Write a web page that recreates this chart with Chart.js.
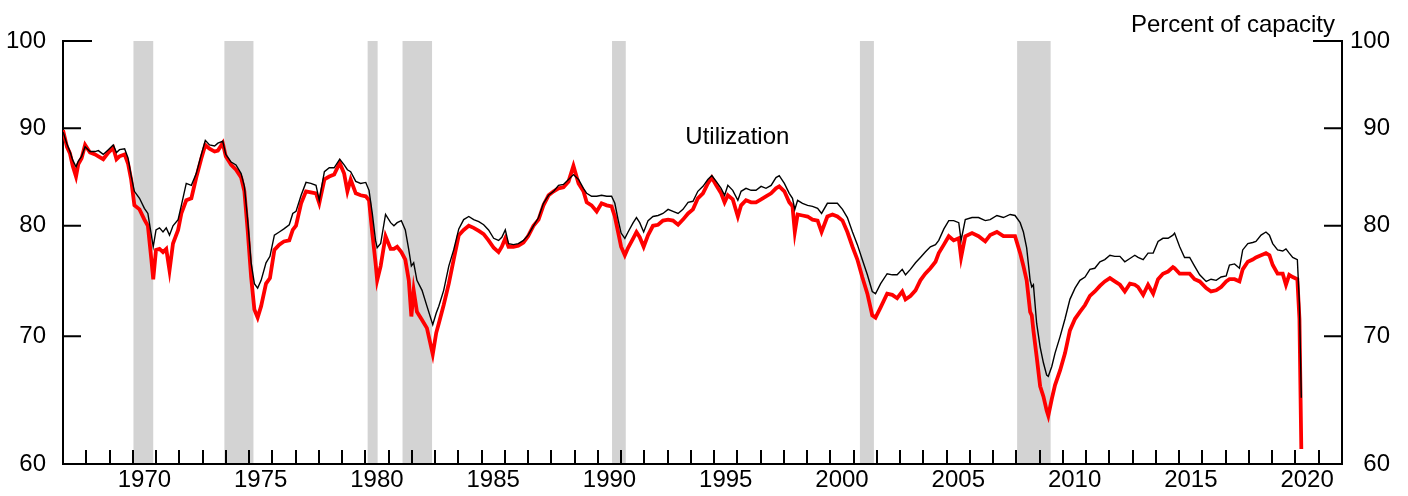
<!DOCTYPE html>
<html lang="en">
<head>
<meta charset="utf-8">
<title>Capacity utilization</title>
<script src="https://cdn.jsdelivr.net/npm/chart.js@4.4.1/dist/chart.umd.min.js"></script>
<style>
  html, body { margin: 0; padding: 0; background: #ffffff; }
  #chart-wrap { width: 1408px; height: 496px; }
</style>
</head>
<body>
<div id="chart-wrap"><canvas id="utilizationChart" width="1408" height="496"></canvas></div>
<script>
// Decimal-year positions of the points
const dates = [
  1967.0, 1967.17, 1967.3, 1967.42, 1967.56, 1967.66, 1967.8, 1967.95,
  1968.16, 1968.38, 1968.52, 1968.73, 1968.95,
  1969.16, 1969.3, 1969.43, 1969.65, 1969.8, 1969.93,
  1970.07, 1970.29, 1970.5, 1970.65, 1970.8, 1970.88,
  1971.0, 1971.15, 1971.3, 1971.44, 1971.58, 1971.73, 1971.95,
  1972.09, 1972.3, 1972.52, 1972.73, 1972.95,
  1973.12, 1973.3, 1973.52, 1973.66, 1973.87,
  1974.0, 1974.23, 1974.44, 1974.66, 1974.8, 1974.94,
  1975.09, 1975.23, 1975.37, 1975.52, 1975.73, 1975.9,
  1976.09, 1976.3, 1976.5, 1976.73, 1976.88,
  1977.02, 1977.24, 1977.45, 1977.66, 1977.88,
  1978.02, 1978.24, 1978.45, 1978.66, 1978.9,
  1979.09, 1979.23, 1979.37, 1979.59, 1979.8,
  1980.02, 1980.16, 1980.3, 1980.44, 1980.51, 1980.66, 1980.87,
  1981.09, 1981.23, 1981.37, 1981.55, 1981.72, 1981.87, 1981.98,
  1982.08, 1982.22, 1982.44, 1982.65, 1982.9,
  1983.05, 1983.16, 1983.37, 1983.59, 1983.8,
  1984.02, 1984.23, 1984.45, 1984.66, 1984.88,
  1985.09, 1985.3, 1985.52, 1985.73, 1985.87,
  1986.02, 1986.16, 1986.37, 1986.58, 1986.8,
  1987.0, 1987.23, 1987.45, 1987.66, 1987.88,
  1988.1, 1988.31, 1988.52, 1988.74, 1988.95,
  1989.17, 1989.38, 1989.52, 1989.73, 1989.95,
  1990.16, 1990.38, 1990.59, 1990.73, 1990.87,
  1991.0, 1991.16, 1991.3, 1991.52, 1991.66, 1991.8, 1991.97,
  1992.16, 1992.37, 1992.59, 1992.8,
  1993.02, 1993.23, 1993.45, 1993.66, 1993.88,
  1994.09, 1994.3, 1994.52, 1994.73, 1994.9,
  1995.09, 1995.3, 1995.45, 1995.59, 1995.8,
  1996.02, 1996.16, 1996.37, 1996.59, 1996.8,
  1997.02, 1997.23, 1997.45, 1997.66, 1997.8,
  1998.02, 1998.23, 1998.37, 1998.47, 1998.59, 1998.8,
  1999.02, 1999.23, 1999.45, 1999.62, 1999.87,
  2000.09, 2000.3, 2000.52, 2000.73, 2000.95,
  2001.16, 2001.37, 2001.59, 2001.8, 2001.94,
  2002.16, 2002.44, 2002.66, 2002.87,
  2003.09, 2003.23, 2003.44, 2003.66, 2003.87,
  2004.08, 2004.3, 2004.52, 2004.66, 2004.88,
  2005.09, 2005.3, 2005.52, 2005.62, 2005.8,
  2006.09, 2006.37, 2006.66, 2006.87,
  2007.16, 2007.44, 2007.73, 2007.94,
  2008.16, 2008.3, 2008.44, 2008.59, 2008.66, 2008.73, 2008.87,
  2009.02, 2009.16, 2009.3, 2009.37, 2009.52, 2009.66, 2009.88,
  2010.09, 2010.3, 2010.52, 2010.73, 2010.95,
  2011.16, 2011.37, 2011.59, 2011.8,
  2012.02, 2012.23, 2012.45, 2012.66, 2012.88,
  2013.09, 2013.23, 2013.45, 2013.66, 2013.88,
  2014.09, 2014.3, 2014.52, 2014.73, 2014.8,
  2015.02, 2015.23, 2015.45, 2015.66, 2015.88,
  2016.16, 2016.37, 2016.59, 2016.8,
  2017.02, 2017.16, 2017.38, 2017.59, 2017.73, 2017.95,
  2018.16, 2018.3, 2018.52, 2018.73, 2018.88,
  2019.02, 2019.23, 2019.45, 2019.59, 2019.73, 2019.88,
  2020.08, 2020.17, 2020.25,
];

// Thin black line
const totalIndustry = [
  89.6, 88.3, 87.5, 86.6, 85.9, 86.5, 87.0, 88.0,
  87.5, 87.5, 87.6, 87.2, 87.7,
  88.2, 87.4, 87.7, 87.8, 86.8, 85.0,
  83.4, 82.7, 81.7, 81.2, 79.1, 78.0,
  79.6, 79.8, 79.4, 79.8, 79.1, 80.0, 80.6,
  82.0, 84.2, 84.0, 85.2, 87.2,
  88.7, 88.2, 88.1, 88.4, 88.6,
  87.2, 86.4, 86.1, 85.2, 83.9, 80.6,
  76.5, 74.6, 74.2, 74.9, 76.5, 77.1,
  79.1, 79.4, 79.7, 80.1, 81.2,
  81.4, 83.0, 84.3, 84.2, 84.0,
  82.5, 85.4, 85.8, 85.8, 86.7,
  86.1, 85.6, 85.4, 84.4, 84.2,
  84.3, 83.5, 81.2, 78.6, 77.9, 78.3, 81.1,
  80.3, 80.0, 80.3, 80.5, 79.6, 77.7, 76.2,
  76.5, 74.9, 74.0, 72.6, 71.0,
  72.0, 72.6, 74.0, 76.2, 77.7,
  79.7, 80.6, 80.9, 80.6, 80.4,
  80.1, 79.6, 78.8, 78.6, 78.9,
  79.6, 78.3, 78.2, 78.3, 78.6,
  79.1, 80.0, 80.8, 82.2, 83.0,
  83.4, 84.0, 84.1, 84.6, 85.1,
  84.6, 83.7, 83.2, 82.9, 82.9,
  83.0, 82.9, 82.9, 82.2, 80.6,
  79.3, 78.8, 79.4, 80.3, 80.8, 80.3, 79.4,
  80.5, 80.9, 81.0, 81.2,
  81.6, 81.4, 81.2, 81.6, 82.3,
  82.4, 83.4, 83.9, 84.6, 85.0,
  84.4, 83.7, 83.0, 84.0, 83.5,
  82.5, 83.4, 83.7, 83.5, 83.5,
  83.9, 83.7, 84.0, 84.8, 85.0,
  84.2, 83.2, 82.7, 81.6, 82.5, 82.2,
  82.0, 81.9, 81.7, 81.2, 82.2,
  82.2, 82.2, 81.6, 80.8, 79.4,
  78.2, 76.8, 75.4, 73.9, 73.7,
  74.6, 75.5, 75.4, 75.4,
  75.9, 75.4, 75.9, 76.5, 77.0,
  77.5, 78.0, 78.2, 78.6, 79.7,
  80.5, 80.5, 80.3, 78.6, 80.6,
  80.8, 80.8, 80.5, 80.6,
  81.0, 80.8, 81.1, 81.0,
  80.3, 79.4, 77.9, 74.9, 74.3, 74.5, 71.1,
  69.1, 67.8, 66.8, 66.7, 67.5, 68.6, 70.0,
  71.5, 73.2, 74.2, 74.9, 75.2,
  75.9, 76.0, 76.6, 76.8,
  77.2, 77.1, 77.1, 76.6, 76.9,
  77.2, 77.0, 76.8, 77.4, 77.4,
  78.5, 78.8, 78.8, 79.1, 79.3,
  78.0, 77.0, 77.0, 76.2, 75.4,
  74.8, 75.0, 74.9, 75.2,
  75.3, 76.3, 76.4, 76.0, 77.7, 78.3,
  78.4, 78.5, 79.1, 79.4, 79.1,
  78.3, 77.7, 77.6, 77.8, 77.4, 77.0,
  76.8, 72.8, 65.0,
];

// Thick red line
const manufacturing = [
  89.8, 88.0, 87.3, 86.0, 84.9, 86.2, 86.8, 88.2,
  87.4, 87.2, 87.0, 86.7, 87.4,
  87.9, 86.7, 87.0, 87.2, 86.2, 84.6,
  82.0, 81.6, 80.6, 80.0, 76.8, 75.0,
  77.7, 77.8, 77.5, 77.8, 75.8, 78.3, 79.6,
  81.2, 82.5, 82.7, 84.8, 86.8,
  88.2, 87.8, 87.5, 87.6, 88.4,
  87.0, 86.1, 85.6, 84.8, 83.4, 79.6,
  75.2, 72.3, 71.6, 72.6, 74.6, 75.1,
  77.7, 78.2, 78.5, 78.6, 79.6,
  80.0, 82.2, 83.4, 83.3, 83.2,
  82.2, 84.6, 84.9, 85.1, 86.3,
  85.2, 83.4, 84.6, 83.2, 83.0,
  82.9, 82.5, 79.3, 76.5, 74.9, 76.2, 79.0,
  77.8, 77.8, 78.0, 77.5, 76.8, 74.9, 71.7,
  74.0, 72.1, 71.4, 70.7, 68.5,
  70.3, 71.1, 72.7, 74.6, 76.8,
  79.1, 79.6, 80.0, 79.8, 79.5,
  79.2, 78.6, 77.9, 77.5, 78.0,
  78.8, 78.0, 78.0, 78.1, 78.4,
  79.0, 80.0, 80.6, 82.0, 83.0,
  83.4, 83.7, 83.8, 84.4, 86.0,
  84.2, 83.4, 82.3, 82.0, 81.4,
  82.2, 82.0, 81.9, 80.9, 79.4,
  78.0, 77.2, 77.9, 78.8, 79.4, 78.9, 78.0,
  79.1, 80.0, 80.1, 80.5,
  80.6, 80.5, 80.1, 80.6, 81.2,
  81.6, 82.7, 83.2, 84.2, 84.8,
  84.0, 83.2, 82.3, 83.0, 82.6,
  80.9, 82.0, 82.5, 82.3, 82.3,
  82.6, 82.9, 83.2, 83.7, 83.9,
  83.4, 82.3, 81.9, 79.4, 81.1, 81.0,
  80.9, 80.6, 80.5, 79.4, 80.9,
  81.1, 80.9, 80.5, 79.4, 78.0,
  76.8, 75.2, 73.7, 71.8, 71.6,
  72.5, 73.7, 73.6, 73.3,
  73.9, 73.2, 73.5, 74.0, 74.9,
  75.5, 76.0, 76.6, 77.4, 78.2,
  79.0, 78.6, 78.8, 77.0, 79.0,
  79.3, 79.0, 78.5, 79.1,
  79.4, 79.0, 79.0, 79.0,
  77.4, 76.2, 74.9, 72.1, 71.8, 70.5, 68.3,
  65.9, 65.1, 64.0, 63.6, 64.9, 66.0, 67.2,
  68.6, 70.5, 71.5, 72.1, 72.7,
  73.5, 73.9, 74.4, 74.8,
  75.1, 74.8, 74.5, 73.9, 74.6,
  74.5, 74.3, 73.6, 74.5, 73.7,
  75.0, 75.5, 75.7, 76.1, 76.0,
  75.5, 75.5, 75.5, 75.0, 74.8,
  74.2, 73.9, 74.0, 74.3,
  74.8, 75.0, 75.0, 74.8, 75.9, 76.6,
  76.8, 77.0, 77.2, 77.4, 77.2,
  76.3, 75.5, 75.5, 74.5, 75.4, 75.2,
  75.0, 71.5, 61.1,
];

// Shaded recession periods (decimal years)
const recessionStarts = [1970.03, 1973.94, 1980.1, 1981.6, 1990.61, 2001.27, 2008.03];
const recessionEnds = [1970.88, 1975.19, 1980.53, 1982.87, 1991.2, 2001.87, 2009.47];

const valueTicks = [60, 70, 80, 90, 100];
const yearLabels = [1970, 1975, 1980, 1985, 1990, 1995, 2000, 2005, 2010, 2015, 2020];
const firstYear = 1967;
const lastYear = 2022;

const fontFamily = "'Liberation Sans', Arial, Helvetica, sans-serif";
Chart.defaults.font.family = fontFamily;
Chart.defaults.font.size = 24;
Chart.defaults.color = "#000000";

const recessionShading = {
  id: "recessionShading",
  beforeDraw(chart) {
    const { ctx, chartArea, scales } = chart;
    ctx.save();
    ctx.fillStyle = "#d3d3d3";
    recessionStarts.forEach((start, i) => {
      const left = scales.x.getPixelForValue(start);
      const right = scales.x.getPixelForValue(recessionEnds[i]);
      ctx.fillRect(left, chartArea.top, right - left, chartArea.bottom - chartArea.top);
    });
    ctx.restore();
  },
};

const axisTicksAndNotes = {
  id: "axisTicksAndNotes",
  afterDraw(chart) {
    const { ctx, chartArea, scales } = chart;
    ctx.save();
    ctx.strokeStyle = "#000000";
    ctx.lineWidth = 2;
    ctx.beginPath();
    valueTicks.forEach((value) => {
      const y = scales.y.getPixelForValue(value);
      const length = value === 100 ? 29 : 18;
      ctx.moveTo(chartArea.left, y);
      ctx.lineTo(chartArea.left + length, y);
      ctx.moveTo(chartArea.right, y);
      ctx.lineTo(chartArea.right - length, y);
    });
    for (let year = firstYear + 1; year < lastYear; year++) {
      const x = Math.round(scales.x.getPixelForValue(year));
      ctx.moveTo(x, chartArea.bottom);
      ctx.lineTo(x, chartArea.bottom - 14);
    }
    ctx.stroke();

    ctx.fillStyle = "#000000";
    ctx.font = `24px ${fontFamily}`;
    ctx.textBaseline = "alphabetic";
    ctx.textAlign = "right";
    ctx.fillText("Percent of capacity", chartArea.right - 7, chartArea.top - 9.5);
    ctx.textAlign = "center";
    ctx.fillText("Utilization", scales.x.getPixelForValue(1996), scales.y.getPixelForValue(88.3));
    ctx.restore();
  },
};

function valueAxis(position, width, padding) {
  return {
    type: "logarithmic",
    position,
    min: 60,
    max: 100,
    afterBuildTicks(scale) {
      scale.ticks = valueTicks.map((value) => ({ value }));
    },
    afterFit(scale) {
      scale.width = width;
    },
    ticks: {
      padding,
      crossAlign: position === "right" ? "far" : "near",
      color: "#000000",
      font: { size: 24 },
      callback: (value) => String(value),
    },
    grid: { drawOnChartArea: false, drawTicks: false },
    border: { display: true, color: "#000000", width: 2 },
  };
}

new Chart(document.getElementById("utilizationChart"), {
  type: "line",
  data: {
    datasets: [
      {
        label: "Total industry",
        data: dates.map((date, i) => ({ x: date, y: totalIndustry[i] })),
        borderColor: "#000000",
        borderWidth: 1.4,
        pointRadius: 0,
        tension: 0,
        yAxisID: "y",
      },
      {
        label: "Manufacturing",
        data: dates.map((date, i) => ({ x: date, y: manufacturing[i] })),
        borderColor: "#ff0000",
        borderWidth: 3.8,
        pointRadius: 0,
        tension: 0,
        yAxisID: "y",
      },
    ],
  },
  options: {
    responsive: false,
    animation: false,
    events: [],
    layout: { padding: { top: 41, left: 0, right: 18, bottom: 0 } },
    plugins: {
      legend: { display: false },
      tooltip: { enabled: false },
    },
    scales: {
      x: {
        type: "linear",
        min: firstYear,
        max: lastYear,
        afterBuildTicks(scale) {
          scale.ticks = yearLabels.map((year) => ({ value: year + 0.5 }));
        },
        afterFit(scale) {
          scale.height = 32;
        },
        ticks: {
          autoSkip: false,
          maxRotation: 0,
          padding: 2,
          color: "#000000",
          font: { size: 24 },
          callback: (value) => String(Math.floor(value)),
        },
        grid: { drawOnChartArea: false, drawTicks: false },
        border: { display: true, color: "#000000", width: 2 },
      },
      y: valueAxis("left", 63, 17),
      y2: valueAxis("right", 48, 8),
    },
  },
  plugins: [recessionShading, axisTicksAndNotes],
});
</script>
</body>
</html>
